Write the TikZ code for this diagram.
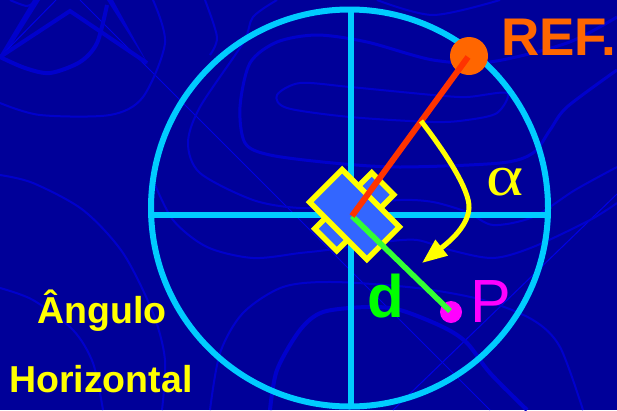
\documentclass[tikz,border=0pt]{standalone}
\usepackage{fontspec}
\setmainfont{Liberation Sans}
\newfontfamily\greekfont{Liberation Serif}
\usetikzlibrary{arrows.meta}
\definecolor{deepblue}{HTML}{000099}
\definecolor{curveblue}{HTML}{0000CC}
\definecolor{thinblue}{HTML}{0000E6}
\definecolor{dialcyan}{HTML}{00CCFF}
\definecolor{bodyblue}{HTML}{3366FF}
\definecolor{reforange}{HTML}{FF6600}
\definecolor{refred}{HTML}{FF3300}
\definecolor{distgreen}{HTML}{33FF33}
\definecolor{textgreen}{HTML}{00FF00}
\definecolor{pointpink}{HTML}{FF00FF}
\definecolor{markyellow}{HTML}{FFFF00}
\tikzset{
  bgthin/.style={draw=curveblue, line width=2pt},
  bgmid/.style={draw=curveblue, line width=3pt},
  bgthick/.style={draw=curveblue, line width=4pt},
  bgline/.style={draw=thinblue, line width=1pt},
  dialline/.style={draw=dialcyan, line width=5.5pt},
  partbox/.style={draw=markyellow, fill=bodyblue, line width=5.5pt, rotate=-45, inner sep=0pt},
  label/.style={inner sep=0pt, anchor=base west},
}
\begin{document}
\begin{tikzpicture}[x=1pt, y=-1pt]
    \useasboundingbox (0,0) rectangle (617,410);
    \fill[deepblue] (0,0) rectangle (617,410);
    % background pattern
    \fill[curveblue] (0,55) -- (33,0) -- (40,0) -- (6,54) -- cycle;
    \fill[curveblue] (107,0) -- (113,0) -- (148,64) -- cycle;
    \draw[bgline] (0,57) -- (56,0);
    \draw[bgline] (80,0) -- (490,410);
    \draw[bgline] (393,410) -- (617,194);
    \draw[bgthick] (0,57) -- (70,11) -- (147,63);
    \draw[bgthick] plot[smooth] coordinates {(0,57) (25,68) (50,73) (80,62) (97,43) (107,5)};
    \draw[bgthin] plot[smooth] coordinates {(10,0) (27,6) (37,0)};
    \draw[bgthin] plot[smooth] coordinates {(0,103) (40,115) (110,115) (143,97) (165,43) (153,0)};
    \draw[bgthin] plot[smooth] coordinates {(205,0) (217,37) (210,55)};
    \draw[bgthin] plot[smooth] coordinates {(277,0) (253,17) (243,43) (200,107) (188,143) (200,173) (253,200) (300,208) (350,205) (400,200) (433,202) (467,212) (493,225) (533,217) (575,190) (617,167)};
    \draw[bgmid] plot[smooth] coordinates {(617,17) (567,43) (490,62) (433,60) (367,42) (317,35) (277,42) (250,63) (240,107) (245,143) (270,155) (333,163) (400,167) (500,163) (533,153) (550,130) (567,107) (617,70)};
    \draw[bgthin] plot[smooth cycle] coordinates {(507,93) (467,97) (433,95) (350,87) (300,83) (277,95) (287,108) (350,117) (433,122) (467,120) (497,113)};
    \draw[bgthin] plot[smooth] coordinates {(377,0) (433,15) (500,0)};
    \draw[bgthin] plot[smooth] coordinates {(0,175) (33,183) (83,210) (123,253) (153,313) (165,360) (162,410)};
    \draw[bgthin] plot[smooth] coordinates {(0,288) (33,300) (73,330) (93,363) (103,410)};
    \draw[bgthin] plot[smooth] coordinates {(153,180) (173,220) (207,247) (253,258) (300,253) (327,250) (383,242) (417,240) (450,250) (493,258) (533,247) (590,220) (617,203)};
    \draw[bgthin] plot[smooth] coordinates {(210,410) (220,353) (243,313) (283,287) (333,282) (417,288) (483,300) (533,320) (560,347) (583,410)};
    \draw[bgthick] plot[smooth] coordinates {(270,410) (277,370) (300,330) (323,312) (367,307) (400,310) (443,327) (467,343) (490,373) (527,410)};
    % dial
    \node[circle, draw=dialcyan, line width=6pt, minimum size=397pt, inner sep=0pt] (dial) at (349.5,208) {};
    \coordinate (dialW) at (150,215);
    \coordinate (dialE) at (548,215);
    \coordinate (dialN) at (351,9);
    \coordinate (dialS) at (351,406);
    \draw[dialline] (dialW) -- (dialE);
    \draw[dialline] (dialN) -- (dialS);
    % instrument
    \node[partbox, minimum width=31pt, minimum height=19pt] (wingA) at (376,190.5) {};
    \node[partbox, minimum width=31pt, minimum height=19pt] (wingB) at (332.5,233) {};
    \node[partbox, minimum width=81pt, minimum height=46pt] (body) at (354.5,214.5) {};
    \coordinate (axis) at (352,216);
    % points
    \node[circle, fill=reforange, minimum size=38pt, inner sep=0pt] (ref) at (469,56) {};
    \node[circle, fill=pointpink, minimum size=22pt, inner sep=0pt] (point) at (451,312) {};
    \coordinate (refEnd) at (468,57);
    \coordinate (pointEnd) at (450,311);
    \coordinate (arcStart) at (421,121);
    \coordinate (arcTip) at (422,263);
    \draw[draw=distgreen, line width=5.5pt] (axis) -- (pointEnd);
    \draw[draw=refred, line width=6pt] (axis) -- (refEnd);
    \draw[draw=markyellow, line width=5pt, -{Triangle[length=25pt, width=19pt]}] (arcStart) .. controls (445,152) and (470,190) .. (469,208) .. controls (468,228) and (445,245) .. (arcTip);
    % labels
    \node[label, text=reforange, font=\fontsize{53}{53}\selectfont\bfseries] (reflabel) at (501,55) {REF.};
    \node[label, text=markyellow, font=\fontsize{58}{58}\greekfont, xscale=1.22] (alpha) at (486,195) {α};
    \node[label, text=textgreen, font=\fontsize{60}{60}\selectfont\bfseries] (dlabel) at (367,317) {d};
    \node[label, text=pointpink, font=\fontsize{61}{61}\selectfont] (plabel) at (470,322) {P};
    \node[label, text=markyellow, font=\fontsize{37.5}{37.5}\selectfont\bfseries] (angulo) at (37,323) {Ângulo};
    \node[label, text=markyellow, font=\fontsize{37.5}{37.5}\selectfont\bfseries] (horizontal) at (9,392) {Horizontal};
\end{tikzpicture}
\end{document}
